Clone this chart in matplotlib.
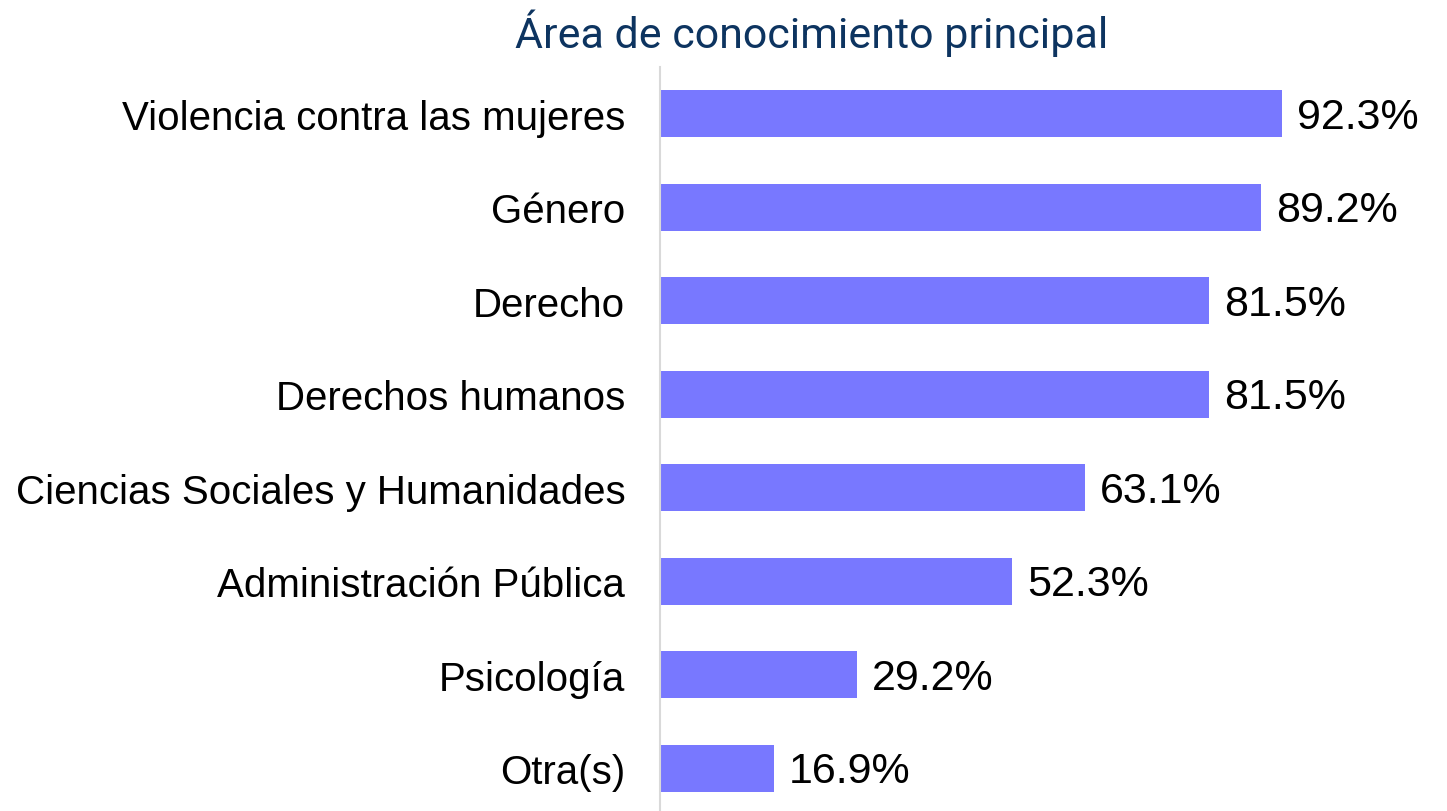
import matplotlib.pyplot as plt

# Data
categories = [
    'Violencia contra las mujeres',
    'Género',
    'Derecho',
    'Derechos humanos',
    'Ciencias Sociales y Humanidades',
    'Administración Pública',
    'Psicología',
    'Otra(s)',
]
values = [92.3, 89.2, 81.5, 81.5, 63.1, 52.3, 29.2, 16.9]
value_labels = ['92.3%', '89.2%', '81.5%', '81.5%', '63.1%', '52.3%', '29.2%', '16.9%']

fig = plt.figure(figsize=(14.47, 8.12), dpi=100)
ax = fig.add_axes([660 / 1447, -4 / 812, 787 / 1447, 748 / 812])

positions = list(range(len(categories)))
ax.barh(positions, values, height=0.5, color='#7878FF')

ax.set_xlim(0, 116.8)
ax.set_ylim(len(categories) - 0.5, -0.5)

for pos, val, lab in zip(positions, values, value_labels):
    ax.text(val + 2.2, pos + 0.03, lab, va='center', ha='left', fontsize=31,
            family='Liberation Sans', color='black')

ax.set_yticks(positions)
ax.set_yticklabels(categories, fontsize=29, family='Liberation Sans')
ax.tick_params(axis='y', length=0, pad=25)
ax.set_xticks([])

for side in ['top', 'right', 'bottom']:
    ax.spines[side].set_visible(False)
ax.spines['left'].set_color('#D9D9D9')
ax.spines['left'].set_linewidth(1.5)

fig.text(812 / 1447, 1 - 33 / 812, 'Área de conocimiento principal', ha='center', va='center',
         fontsize=31, family='Roboto', color='#0D3460')

plt.savefig('out.png', dpi=100)
